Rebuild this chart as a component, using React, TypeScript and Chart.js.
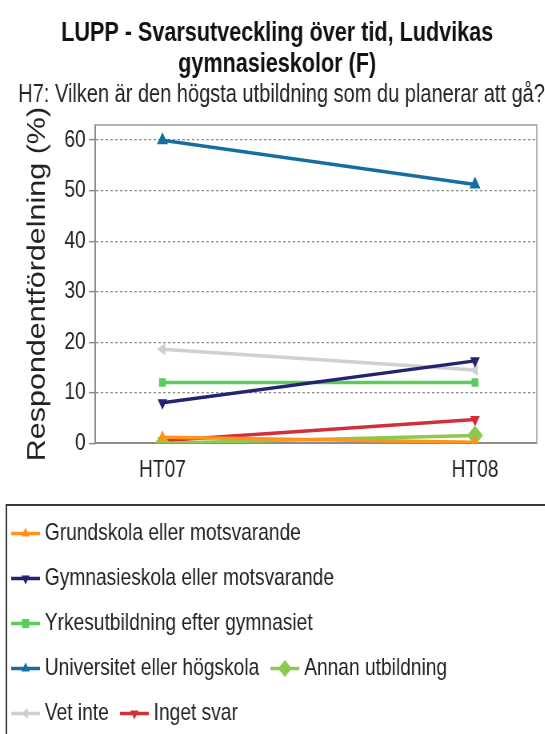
import React, { useEffect, useRef } from 'react';
import { Chart, registerables } from 'chart.js';

Chart.register(...registerables);

// ---------- data ----------
const categories = ['HT07', 'HT08'];
const seriesNames = [
  'Grundskola eller motsvarande',
  'Gymnasieskola eller motsvarande',
  'Yrkesutbildning efter gymnasiet',
  'Universitet eller högskola',
  'Annan utbildning',
  'Vet inte',
  'Inget svar',
];
const grundskola = [1.2, 0.2];
const gymnasieskola = [8.0, 16.3];
const yrkesutbildning = [12.0, 12.0];
const universitet = [60.0, 51.2];
const annan = [0.0, 1.5];
const vetInte = [18.6, 14.5];
const ingetSvar = [0.5, 4.7];
const seriesValues = [grundskola, gymnasieskola, yrkesutbildning, universitet, annan, vetInte, ingetSvar];
const yTickValues = [0, 10, 20, 30, 40, 50, 60];

const titleLines = ['LUPP - Svarsutveckling över tid, Ludvikas', 'gymnasieskolor (F)'];
const subtitleText = 'H7: Vilken är den högsta utbildning som du planerar att gå?';
const yAxisTitle = 'Respondentfördelning (%)';

// ---------- styles ----------
const colors = ['#FF9419', '#232370', '#5CCB5C', '#166E9E', '#8DC84F', '#CFCFCF', '#D22F3A'];
const pointStyles = ['triangle', 'triangle', 'rect', 'triangle', 'rectRot', 'triangle', 'triangle'];
const pointRotations = [0, 180, 0, 0, 0, -90, 180];
const pointRadii = [7, 7, 6, 8, 10, 7, 7];

const SX = 0.8;
const CW = 681;
const CH = 739;
const FONT = "'Liberation Sans', Arial, sans-serif";

function drawMarker(ctx: CanvasRenderingContext2D, style: string, rot: number, x: number, y: number, r: number, color: string) {
  ctx.save();
  ctx.translate(x, y);
  ctx.rotate((rot * Math.PI) / 180);
  ctx.fillStyle = color;
  ctx.beginPath();
  if (style === 'triangle') {
    ctx.moveTo(0, -r);
    ctx.lineTo(r * 0.866, r * 0.5);
    ctx.lineTo(-r * 0.866, r * 0.5);
    ctx.closePath();
  } else if (style === 'rect') {
    ctx.rect(-r * 0.75, -r * 0.75, r * 1.5, r * 1.5);
  } else {
    ctx.moveTo(0, -r);
    ctx.lineTo(r, 0);
    ctx.lineTo(0, r);
    ctx.lineTo(-r, 0);
    ctx.closePath();
  }
  ctx.fill();
  ctx.restore();
}

// shift the centred title blocks slightly right, as in the reference
const titleShift = {
  id: 'titleShift',
  afterLayout(chart: any) {
    chart.boxes.forEach((b: any) => {
      const t = b && b.options && b.options.text;
      if (t === subtitleText) {
        b.left += 15;
        b.right += 15;
      } else if (Array.isArray(t) && t[0] === titleLines[0]) {
        b.left += 9.5;
        b.right += 9.5;
      }
    });
  },
};

const framePlugin = {
  id: 'frame',
  beforeDatasetsDraw(chart: any) {
    const { ctx, chartArea } = chart;
    const { left, right, top, bottom } = chartArea;
    ctx.save();
    ctx.strokeStyle = '#b4b4b4';
    ctx.lineWidth = 2;
    ctx.beginPath();
    ctx.moveTo(left, top);
    ctx.lineTo(right, top);
    ctx.lineTo(right, bottom);
    ctx.stroke();
    ctx.restore();
  },
};

const legendDecor = {
  id: 'legendDecor',
  afterDraw(chart: any) {
    const lg = chart.legend;
    if (!lg || !lg.legendHitBoxes || !lg.legendHitBoxes.length) return;
    const boxes = lg.legendHitBoxes;
    const ctx: CanvasRenderingContext2D = chart.ctx;
    const top = boxes[0].top - 13;
    ctx.save();
    ctx.strokeStyle = '#3a3a3a';
    ctx.lineWidth = 2;
    ctx.beginPath();
    ctx.moveTo(8, chart.height + 5);
    ctx.lineTo(8, top);
    ctx.lineTo(chart.width + 5, top);
    ctx.stroke();
    boxes.forEach((b: any, i: number) => {
      const cy = b.top + b.height / 2;
      ctx.strokeStyle = colors[i];
      ctx.lineWidth = 3.5;
      ctx.beginPath();
      ctx.moveTo(b.left, cy);
      ctx.lineTo(b.left + 36, cy);
      ctx.stroke();
      drawMarker(ctx, pointStyles[i], pointRotations[i], b.left + 18, cy, i === 4 ? 8.5 : 6, colors[i]);
    });
    ctx.restore();
  },
};

export default function App() {
  const ref = useRef<HTMLCanvasElement>(null);
  useEffect(() => {
    document.body.style.margin = '0';
    Chart.defaults.font.family = FONT;
    const datasets = seriesNames.map((name, i) => ({
      label: name,
      data: seriesValues[i].map((v, j) => ({ x: j, y: v })),
      borderColor: colors[i],
      backgroundColor: colors[i],
      pointBackgroundColor: colors[i],
      pointBorderColor: colors[i],
      pointBorderWidth: 0,
      pointStyle: pointStyles[i],
      pointRotation: pointRotations[i],
      pointRadius: pointRadii[i],
      borderWidth: 3.5,
      tension: 0,
      fill: false,
    }));
    const chart = new Chart(ref.current as HTMLCanvasElement, {
      type: 'line',
      data: { datasets },
      plugins: [titleShift, framePlugin, legendDecor],
      options: {
        responsive: false,
        animation: false,
        devicePixelRatio: 1,
        layout: { padding: { left: 0, right: 7, top: 0, bottom: 0 } },
        plugins: {
          tooltip: { enabled: false },
          title: {
            display: true,
            text: titleLines,
            color: '#111',
            font: { size: 27, weight: 'bold', lineHeight: 1.148 },
            padding: { top: 18, bottom: 0 },
          },
          subtitle: {
            display: true,
            text: subtitleText,
            color: '#222',
            font: { size: 25, lineHeight: 1.2 },
            padding: { top: 0, bottom: 15 },
          },
          legend: {
            display: true,
            position: 'bottom',
            align: 'start',
            title: { display: true, text: '', font: { size: 1, lineHeight: 1 }, padding: { top: 5.4, bottom: 0 } },
            labels: {
              boxWidth: 30,
              boxHeight: 31,
              padding: 14,
              color: '#222',
              font: { size: 24 },
              generateLabels: (c: any) =>
                c.data.datasets.map((ds: any, i: number) => ({
                  text: ds.label,
                  datasetIndex: i,
                  fillStyle: 'rgba(0,0,0,0)',
                  strokeStyle: 'rgba(0,0,0,0)',
                  lineWidth: 0,
                  hidden: false,
                  fontColor: '#222',
                })),
            },
          },
        },
        scales: {
          x: {
            type: 'linear',
            min: -0.2147,
            max: 1.1977,
            afterBuildTicks: (axis: any) => {
              axis.ticks = categories.map((_, i) => ({ value: i }));
            },
            ticks: {
              color: '#222',
              font: { size: 24 },
              padding: 12.8,
              maxRotation: 0,
              autoSkip: false,
              callback: (v: any) => categories[Number(v)] ?? '',
            },
            grid: { display: false, drawTicks: false },
            border: { display: true, color: '#8c8c8c', width: 2 },
          },
          y: {
            type: 'linear',
            min: 0,
            max: 63,
            afterBuildTicks: (axis: any) => {
              axis.ticks = yTickValues.map((v) => ({ value: v }));
            },
            ticks: { color: '#222', font: { size: 24 }, padding: 4 },
            grid: {
              color: (ctx: any) => (ctx.tick && ctx.tick.value === 0 ? 'rgba(0,0,0,0)' : '#8a8a8a'),
              lineWidth: 1.3,
              drawTicks: true,
              tickLength: 8,
              tickColor: '#8a8a8a',
              tickWidth: 1.5,
              tickBorderDash: [],
            },
            border: { display: true, color: '#8c8c8c', width: 2, dash: [3, 3] },
            title: {
              display: true,
              text: yAxisTitle,
              color: '#222',
              font: { size: 30.5, lineHeight: 1 },
              padding: { top: 32, bottom: 14 },
            },
          },
        },
      } as any,
    });
    return () => chart.destroy();
  }, []);
  return (
    <div style={{ width: 545, height: 734, overflow: 'hidden', background: '#fff' }}>
      <canvas
        ref={ref}
        width={CW}
        height={CH}
        style={{ display: 'block', transform: `scaleX(${SX})`, transformOrigin: '0 0' }}
      />
    </div>
  );
}
